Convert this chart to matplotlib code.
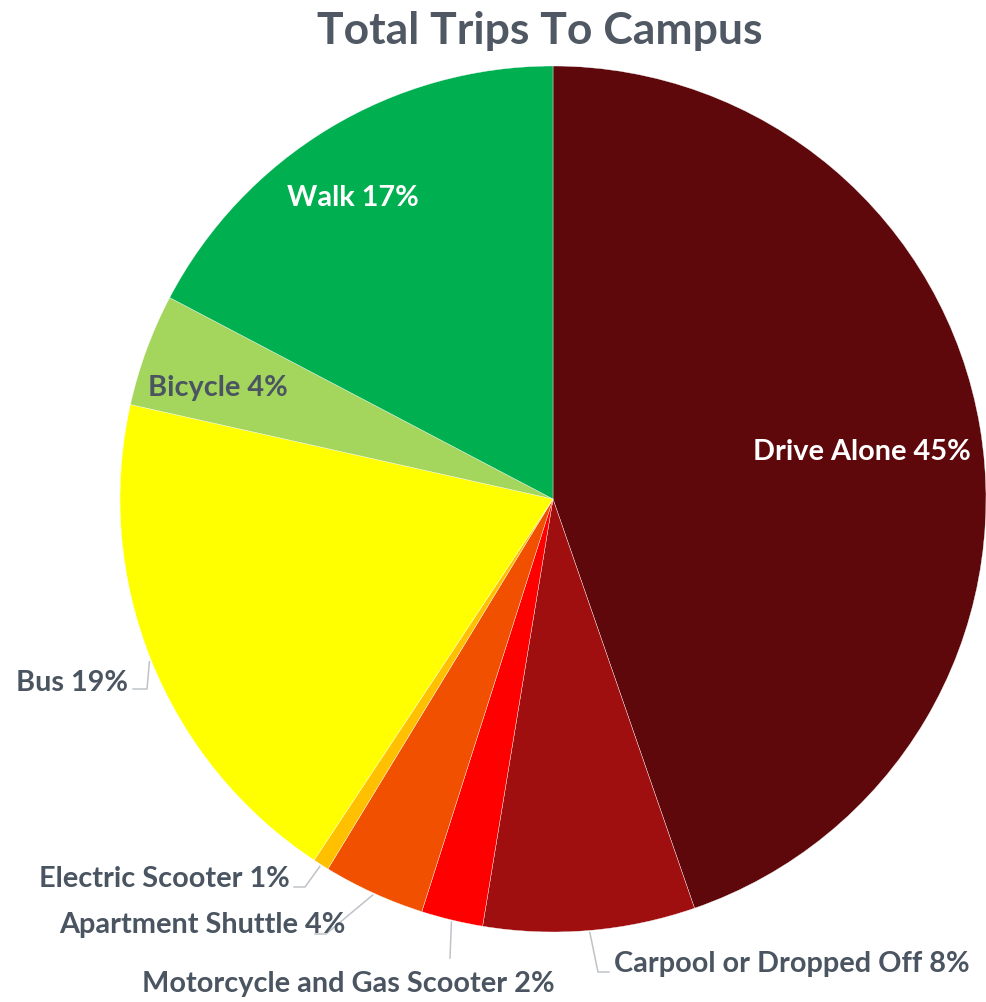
import numpy as np
import matplotlib
matplotlib.use("Agg")
import matplotlib.pyplot as plt

# slices, clockwise from 12 o'clock
modes = ["Drive Alone", "Carpool or Dropped Off", "Motorcycle and Gas Scooter",
         "Apartment Shuttle", "Electric Scooter", "Bus", "Bicycle", "Walk"]
shares = [44.7, 7.9, 2.3, 3.8, 0.6, 19.2, 4.2, 17.3]
shown_pct = [45, 8, 2, 4, 1, 19, 4, 17]
colors = ["#5E080B", "#A00F10", "#FF0000", "#F05000", "#FFC000", "#FFFF00", "#A4D65E", "#00B050"]

# label layout (pixel positions in the 987x1003 picture)
label_pos = [(862, 460), (614, 972), (348, 992), (346, 933),
             (290, 887), (128, 691), (218, 396), (353, 206)]
label_ha = ["center", "left", "center", "right", "right", "right", "center", "center"]
label_col = ["white", "#4A5561", "#4A5561", "#4A5561", "#4A5561", "#4A5561", "#4A5561", "white"]
# leader lines: elbow and end points (None = no leader)
leaders = [None, [(598, 973), (609, 973)], [(450, 959)], [(326, 935), (315, 935)],
           [(305, 888), (294, 888)], [(147, 690), (133, 690)], None, None]

W, H = 987, 1003
CX, CY, R = 553, 500, 433


def d(px, py):
    # picture pixels -> pie data units
    return (px - CX) / R, (CY - py) / R


fig = plt.figure(figsize=(W / 100, H / 100), dpi=100)
ax = fig.add_axes([(CX - R) / W, (H - CY - R) / H, 2 * R / W, 2 * R / H])
ax.pie(shares, colors=colors, startangle=90, counterclock=False, radius=1,
       wedgeprops=dict(edgecolor="white", linewidth=0.25))
ax.set_xlim(-1, 1)
ax.set_ylim(-1, 1)
ax.axis("off")

font = "Lato"
cum = np.cumsum([0] + shares[:-1])
for i, name in enumerate(modes):
    x, y = d(*label_pos[i])
    ax.text(x, y, f"{name} {shown_pct[i]}%", ha=label_ha[i], va="baseline",
            fontsize=20.8, fontweight="bold", color=label_col[i], family=font,
            clip_on=False)
    if leaders[i] is not None:
        mid = np.radians((cum[i] + shares[i] / 2) / 100 * 360)
        xs = [np.sin(mid) * 1.005]
        ys = [np.cos(mid) * 1.005]
        for p in leaders[i]:
            px, py = d(*p)
            xs.append(px)
            ys.append(py)
        ax.plot(xs, ys, color="#BFC3C8", lw=1.1, clip_on=False)

fig.text(540 / W, 1 - 44 / H, "Total Trips To Campus", ha="center", va="baseline",
         fontsize=32, fontweight="bold", color="#4F5863", family=font)

fig.savefig("out.png", dpi=100)
